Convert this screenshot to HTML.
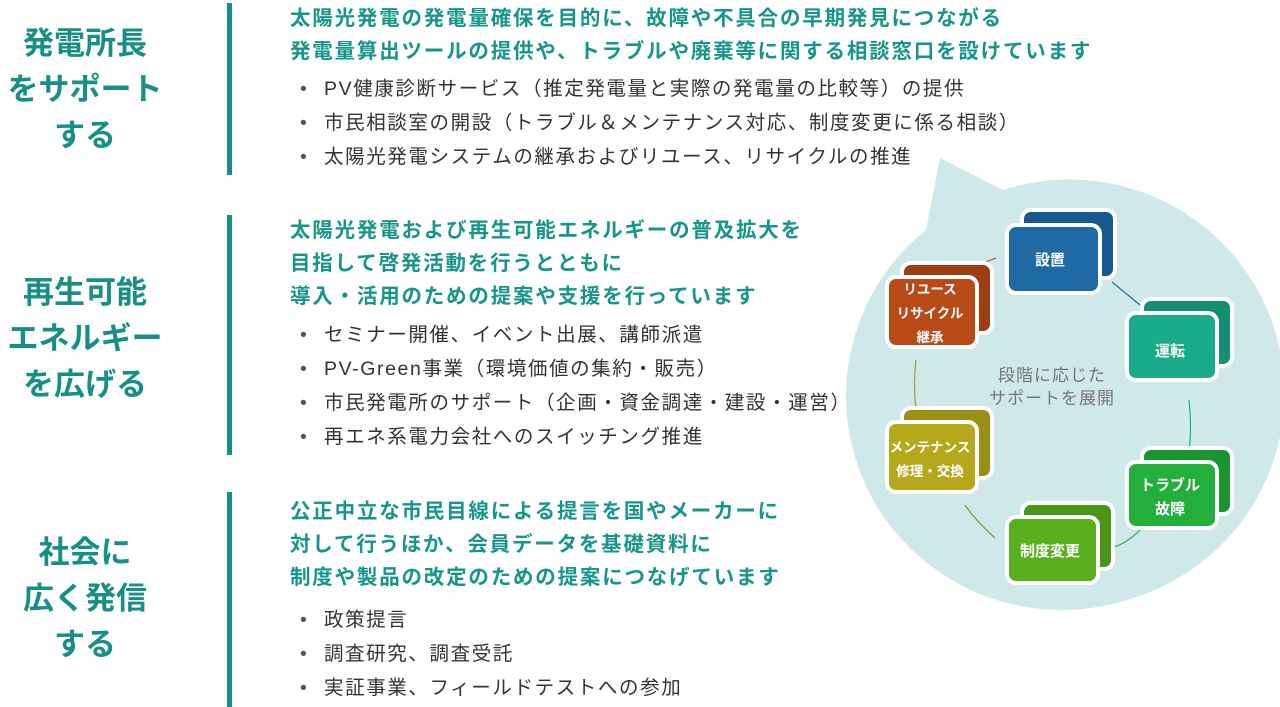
<!DOCTYPE html>
<html><head><meta charset="utf-8"><style>
body{margin:0;width:1280px;height:707px;background:#fff;position:relative;overflow:hidden;font-family:"Liberation Sans","Noto Sans CJK JP",sans-serif}
.h{position:absolute;left:0;width:170px;text-align:center;color:#168f86;font-weight:bold;font-size:31px;line-height:46px}
.bar{position:absolute;left:227px;width:5px;background:#168f86}
.t{position:absolute;left:290px;color:#16968a;font-size:20.5px;line-height:33px;white-space:nowrap;font-weight:bold;letter-spacing:1.8px}
.b{position:absolute;left:300px;color:#333;font-size:19.5px;line-height:34px;white-space:nowrap;letter-spacing:1.6px}
.b div:before{content:"•";display:inline-block;width:24px;color:#555;letter-spacing:0}
svg{position:absolute;left:0;top:0}
</style></head><body>
<svg width="1280" height="707">
<path d="M940 158 L1003 190 A215 214 0 1 1 925 235 Z" fill="#cfe9ea"/>
<ellipse cx="1062" cy="396" rx="216" ry="214" fill="#cfe9ea"/>
<g stroke-width="1.2" fill="none">
<path d="M975 266 L996 258" stroke="#b94a17"/>
<path d="M1112 282 L1140 305" stroke="#2a6aa5"/>
<path d="M1189 400 Q1192 430 1189 450" stroke="#1aab8a"/>
<path d="M1140 530 Q1125 545 1110 548" stroke="#22b03a"/>
<path d="M995 538 Q975 520 965 505" stroke="#5aaf1e"/>
<path d="M916 410 Q913 385 916 360" stroke="#9aa020"/>
</g>
<g font-family="Liberation Sans,Noto Sans CJK JP,sans-serif" font-weight="bold" fill="#fff" text-anchor="middle" font-size="15">
<g><rect x="1022" y="210" width="93" height="68" rx="9" fill="#175a8f" stroke="#fff" stroke-width="4"/><rect x="1007" y="225" width="93" height="68" rx="9" fill="#1f6aa5" stroke="#fff" stroke-width="4"/><text x="1050" y="265">設置</text></g>
<g><rect x="1142" y="299" width="90" height="67" rx="9" fill="#158f74" stroke="#fff" stroke-width="4"/><rect x="1127" y="313" width="90" height="67" rx="9" fill="#1aab8a" stroke="#fff" stroke-width="4"/><text x="1170" y="356">運転</text></g>
<g><rect x="1142" y="448" width="90" height="66" rx="9" fill="#1a9430" stroke="#fff" stroke-width="4"/><rect x="1127" y="462" width="90" height="66" rx="9" fill="#22b03a" stroke="#fff" stroke-width="4"/><text x="1170" y="490">トラブル</text><text x="1170" y="514">故障</text></g>
<g><rect x="1022" y="503" width="91" height="66" rx="9" fill="#4a9418" stroke="#fff" stroke-width="4"/><rect x="1007" y="517" width="91" height="66" rx="9" fill="#5aaf1e" stroke="#fff" stroke-width="4"/><text x="1050" y="556">制度変更</text></g>
<g><rect x="902" y="408" width="90" height="70" rx="9" fill="#9a8f15" stroke="#fff" stroke-width="4"/><rect x="887" y="422" width="90" height="70" rx="9" fill="#b5a91b" stroke="#fff" stroke-width="4"/><text x="930" y="452" font-size="13.5">メンテナンス</text><text x="930" y="476" font-size="13.5">修理・交換</text></g>
<g><rect x="902" y="263" width="90" height="70" rx="9" fill="#9c3d12" stroke="#fff" stroke-width="4"/><rect x="887" y="277" width="90" height="70" rx="9" fill="#b94a17" stroke="#fff" stroke-width="4"/><text x="930" y="294" font-size="13.5">リユース</text><text x="930" y="318" font-size="13.5">リサイクル</text><text x="930" y="342" font-size="13.5">継承</text></g>
</g>
<g font-family="Liberation Sans,Noto Sans CJK JP,sans-serif" fill="#777" font-size="17" text-anchor="middle" letter-spacing="1">
<text x="1052" y="381">段階に応じた</text><text x="1052" y="404">サポートを展開</text>
</g>
</svg>

<div class="bar" style="top:3px;height:172px"></div>
<div class="bar" style="top:215px;height:240px"></div>
<div class="bar" style="top:492px;height:215px"></div>

<div class="h" style="top:21px">発電所長<br>をサポート<br>する</div>
<div class="h" style="top:270px">再生可能<br>エネルギー<br>を広げる</div>
<div class="h" style="top:530px">社会に<br>広く発信<br>する</div>

<div class="t" style="top:2px">太陽光発電の発電量確保を目的に、故障や不具合の早期発見につながる<br>発電量算出ツールの提供や、トラブルや廃棄等に関する相談窓口を設けています</div>
<div class="b" style="top:72px"><div>PV健康診断サービス（推定発電量と実際の発電量の比較等）の提供</div><div>市民相談室の開設（トラブル＆メンテナンス対応、制度変更に係る相談）</div><div>太陽光発電システムの継承およびリユース、リサイクルの推進</div></div>

<div class="t" style="top:214px">太陽光発電および再生可能エネルギーの普及拡大を<br>目指して啓発活動を行うとともに<br>導入・活用のための提案や支援を行っています</div>
<div class="b" style="top:318px"><div>セミナー開催、イベント出展、講師派遣</div><div>PV-Green事業（環境価値の集約・販売）</div><div>市民発電所のサポート（企画・資金調達・建設・運営）</div><div>再エネ系電力会社へのスイッチング推進</div></div>

<div class="t" style="top:495px">公正中立な市民目線による提言を国やメーカーに<br>対して行うほか、会員データを基礎資料に<br>制度や製品の改定のための提案につなげています</div>
<div class="b" style="top:603px"><div>政策提言</div><div>調査研究、調査受託</div><div>実証事業、フィールドテストへの参加</div></div>
</body></html>
